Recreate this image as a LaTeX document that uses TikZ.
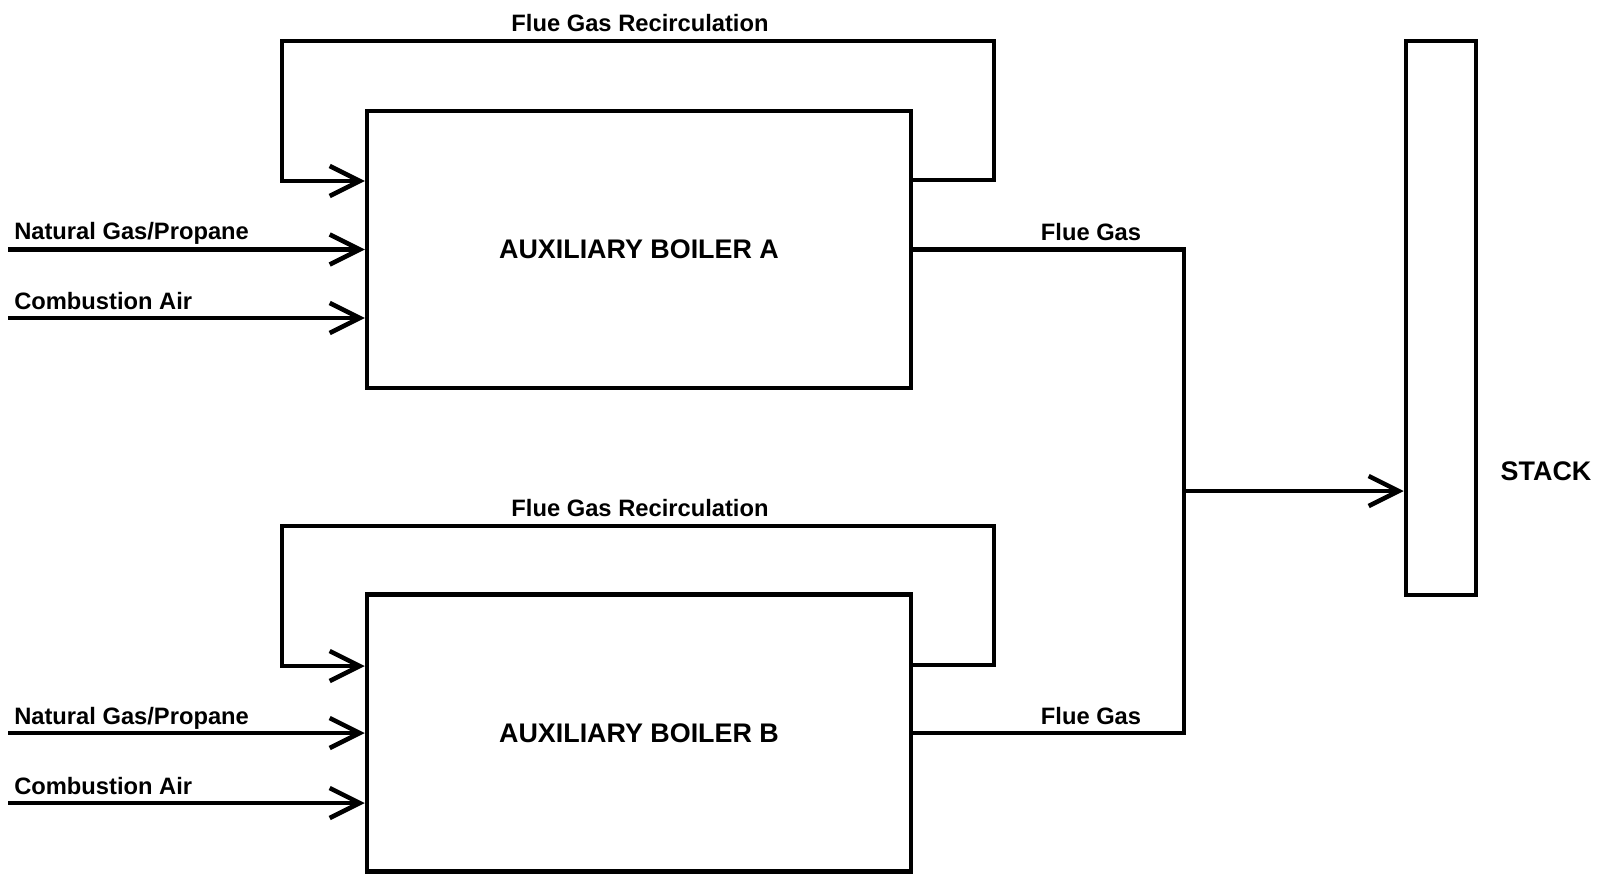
\documentclass[tikz,border=0pt]{standalone}
\usepackage{fontspec}
\setmainfont{Liberation Sans}
\usetikzlibrary{arrows.meta}

\begin{document}
\begin{tikzpicture}[
    x=0.02cm, y=-0.02cm,
    line width=2.6pt,
    boiler/.style={rectangle, draw, minimum width=10.88cm, minimum height=5.54cm, font=\fontsize{15.3}{18}\selectfont\bfseries},
    lbl/.style={font=\fontsize{13.5}{16}\selectfont\bfseries, inner sep=0pt},
    flow/.style={-{Straight Barb[length=0.6cm, width=0.6cm]}},
    pipe/.style={line join=miter}
]
\useasboundingbox (0,0) rectangle (1604,873);
% boilers and stack
\node[boiler] (boilA) at (639,249.5) {AUXILIARY BOILER A};
\node[boiler] (boilB) at (639,733) {AUXILIARY BOILER B};
\node[rectangle, draw, minimum width=1.4cm, minimum height=11.08cm] (stack) at (1441,318) {};
\node[lbl, font=\fontsize{15.3}{18}\selectfont\bfseries, anchor=base] (stacklbl) at (1546,480) {STACK};
% feed lines, boiler A
\coordinate (gasA) at (8,249.5);
\coordinate (airA) at (8,318);
\draw[flow] (gasA) -- (boilA.west);
\draw[flow] (airA) -- (boilA.west |- airA);
\node[lbl, anchor=base west] (gasAlbl) at (12,239) {Natural Gas/Propane};
\node[lbl, anchor=base west] (airAlbl) at (12,309) {Combustion Air};
% feed lines, boiler B
\coordinate (gasB) at (8,733);
\coordinate (airB) at (8,803);
\draw[flow] (gasB) -- (boilB.west);
\draw[flow] (airB) -- (boilB.west |- airB);
\node[lbl, anchor=base west] (gasBlbl) at (12,724) {Natural Gas/Propane};
\node[lbl, anchor=base west] (airBlbl) at (12,794) {Combustion Air};
% flue gas recirculation
\draw[flow, pipe] (boilA.east |- 0,180) -| (994,41) -| (282,181) -- (boilA.west |- 0,181);
\draw[flow, pipe] (boilB.east |- 0,665) -| (994,526) -| (282,666) -- (boilB.west |- 0,666);
\node[lbl, anchor=base] (recAlbl) at (640,31.5) {Flue Gas Recirculation};
\node[lbl, anchor=base] (recBlbl) at (640,516.5) {Flue Gas Recirculation};
% flue gas to stack
\coordinate (junc) at (1184,491);
\draw[pipe] (boilA.east) -| (junc);
\draw[pipe] (boilB.east) -| (junc);
\draw[flow] (junc) -- (stack.west |- junc);
\node[lbl, anchor=base] (flueAlbl) at (1091,240) {Flue Gas};
\node[lbl, anchor=base] (flueBlbl) at (1091,724) {Flue Gas};
\end{tikzpicture}
\end{document}
